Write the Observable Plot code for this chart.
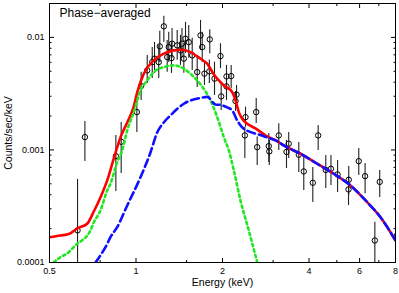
<!DOCTYPE html>
<html>
<head>
<meta charset="utf-8">
<script src="https://cdn.jsdelivr.net/npm/d3@7"></script>
<script src="https://cdn.jsdelivr.net/npm/@observablehq/plot@0.6"></script>
<style>
  html, body { margin: 0; padding: 0; background: #fff; }
  #chart { width: 399px; height: 293px; }
</style>
</head>
<body>
<div id="chart"></div>
<script>
// ---- data ----
const title = "Phase\u2212averaged";
const xTitle = "Energy (keV)";
const yTitle = "Counts/sec/keV";

const xMajorTicks = [0.5, 1, 2, 4, 6, 8];
const xMajorLabels = ["0.5", "1", "2", "4", "6", "8"];
const xMinorTicks = [0.75, 1.5, 3, 5, 7];
const yMajorTicks = [0.0001, 0.001, 0.01];
const yMajorLabels = ["0.0001", "0.001", "0.01"];
const yMinorTicks = [0.0002, 0.0003, 0.0004, 0.0005, 0.0006, 0.0007, 0.0008, 0.0009,
                     0.002, 0.003, 0.004, 0.005, 0.006, 0.007, 0.008, 0.009];

// observed spectrum: energy (keV), rate, lower and upper end of error bar
const obsEnergy = [0.626, 0.664, 0.851, 0.888, 1.007, 1.042, 1.094, 1.139, 1.160, 1.200,
  1.21, 1.25, 1.284, 1.30, 1.329, 1.335, 1.391, 1.428, 1.445, 1.467,
  1.487, 1.526, 1.569, 1.633, 1.677, 1.70, 1.806, 1.731, 1.80, 1.876,
  1.968, 2.065, 2.144, 2.065, 1.979, 2.238, 2.22, 2.405, 2.392, 2.62,
  2.641, 2.898, 2.91, 3.14, 3.34, 3.40, 3.686, 3.836, 4.124, 4.305,
  4.576, 4.77, 5.03, 5.50, 5.49, 5.96, 6.27, 7.05, 6.78, 8.1];
const obsRate = [1.93e-4, 1.30e-3, 8.81e-4, 1.183e-3, 2.17e-3, 3.69e-3, 5.09e-3, 6.03e-3, 6.47e-3, 6.03e-3,
  8.32e-3, 1.253e-2, 6.68e-3, 8.2e-3, 6.55e-3, 8.79e-3, 8.49e-3, 7.66e-3, 8.79e-3, 6.47e-3,
  9.73e-3, 9.08e-3, 6.92e-3, 4.92e-3, 1.042e-2, 8.2e-3, 9.6e-3, 4.76e-3, 4.99e-3, 4.3e-3,
  6.82e-3, 4.5e-3, 4.53e-3, 3.67e-3, 2.99e-3, 3.1e-3, 2.72e-3, 1.957e-3, 1.346e-3, 2.17e-3,
  1.059e-3, 1.081e-3, 9.7e-4, 1.346e-3, 9.6e-4, 1.136e-3, 9.06e-4, 6.44e-4, 5.11e-4, 1.346e-3,
  6.64e-4, 6.8e-4, 6.06e-4, 5.43e-4, 4.46e-4, 7.95e-4, 5.85e-4, 5.2e-4, 1.569e-4, 1.74e-4];
const obsLow = [5e-5, 7.9e-4, 4.28e-4, 6.18e-4, 1.431e-3, 2.754e-3, 3.9e-3, 4.32e-3, 4.79e-3, 4.32e-3,
  5.99e-3, 9.03e-3, 4.89e-3, 5.99e-3, 4.79e-3, 6.51e-3, 6.25e-3, 5.64e-3, 6.51e-3, 4.79e-3,
  7.21e-3, 6.51e-3, 5.09e-3, 3.59e-3, 7.66e-3, 5.99e-3, 7.16e-3, 3.74e-3, 3.9e-3, 3.05e-3,
  5.27e-3, 3.38e-3, 3.52e-3, 2.754e-3, 2.244e-3, 2.486e-3, 2.2e-3, 1.595e-3, 8.4e-4, 1.72e-3,
  7.28e-4, 7.74e-4, 7.28e-4, 9.9e-4, 6.85e-4, 8.4e-4, 6.31e-4, 4.365e-4, 3.41e-4, 9.9e-4,
  4.55e-4, 4.836e-4, 4.19e-4, 3.94e-4, 3.21e-4, 5.93e-4, 4.08e-4, 3.78e-4, 5e-5, 1.2e-4];
const obsHigh = [5.47e-4, 1.792e-3, 1.346e-3, 1.755e-3, 2.93e-3, 4.89e-3, 6.92e-3, 8.15e-3, 9.03e-3, 8.49e-3,
  1.131e-2, 1.537e-2, 9.4e-3, 1.108e-2, 9.03e-3, 1.202e-2, 1.154e-2, 1.042e-2, 1.202e-2, 8.84e-3,
  1.359e-2, 1.278e-2, 9.8e-3, 6.92e-3, 1.416e-2, 1.108e-2, 1.17e-2, 6.03e-3, 6.3e-3, 6.03e-3,
  8.79e-3, 5.64e-3, 5.64e-3, 4.44e-3, 3.88e-3, 3.74e-3, 3.3e-3, 2.4e-3, 1.595e-3, 2.87e-3,
  1.3e-3, 1.402e-3, 1.215e-3, 1.71e-3, 1.215e-3, 1.431e-3, 1.166e-3, 8.94e-4, 6.99e-4, 1.651e-3,
  8.94e-4, 8.94e-4, 8.07e-4, 7.14e-4, 5.81e-4, 1.031e-3, 7.59e-4, 6.57e-4, 2.28e-4, 2.5e-4];

// total model (red solid)
const totalEnergy = [0.5, 0.546, 0.587, 0.624, 0.676, 0.713, 0.752, 0.794, 0.837, 0.883,
  0.932, 0.9825, 1.0097, 1.064, 1.153, 1.2495, 1.354, 1.448, 1.548, 1.677,
  1.769, 1.866, 1.942, 2.021, 2.162, 2.22, 2.279, 2.342, 2.438, 2.605,
  2.861, 3.1, 3.268, 3.736, 4.271, 4.88, 5.578, 6.376, 7.094, 8.0];
const totalRate = [1.679e-4, 1.738e-4, 1.799e-4, 2.005e-4, 2.208e-4, 2.84e-4, 3.783e-4, 5.357e-4, 8.402e-4, 1.292e-3,
  1.755e-3, 2.436e-3, 3.245e-3, 4.757e-3, 6.246e-3, 7.163e-3, 7.664e-3, 7.775e-3, 7.402e-3, 6.467e-3,
  5.838e-3, 4.69e-3, 4.148e-3, 3.744e-3, 3.265e-3, 2.754e-3, 2.168e-3, 1.894e-3, 1.71e-3, 1.553e-3,
  1.318e-3, 1.197e-3, 1.096e-3, 9.252e-4, 7.541e-4, 6.143e-4, 4.836e-4, 3.436e-4, 2.527e-4, 1.569e-4];

// thermal component (green dotted)
const thermalEnergy = [0.5175, 0.546, 0.576, 0.624, 0.641, 0.694, 0.713, 0.752, 0.794, 0.815,
  0.86, 0.8955, 0.932, 0.9825, 1.037, 1.094, 1.153, 1.2495, 1.354, 1.467,
  1.569, 1.677, 1.817, 1.917, 2.021, 2.104, 2.19, 2.31, 2.469, 2.641];
const thermalRate = [1.006e-4, 1.115e-4, 1.202e-4, 1.466e-4, 1.537e-4, 1.925e-4, 2.268e-4, 2.899e-4, 4.365e-4, 5.008e-4,
  7.792e-4, 9.899e-4, 1.491e-3, 2.168e-3, 3.38e-3, 4.148e-3, 4.916e-3, 5.445e-3, 5.638e-3, 5.272e-3,
  4.595e-3, 3.822e-3, 2.754e-3, 1.957e-3, 1.3e-3, 9.899e-4, 6.574e-4, 3.557e-4, 1.925e-4, 1.006e-4];

// power-law component (blue dashed)
const powerEnergy = [0.723, 0.794, 0.815, 0.86, 0.932, 1.037, 1.123, 1.185, 1.2495, 1.318,
  1.467, 1.677, 1.769, 1.891, 1.968, 2.077, 2.162, 2.25, 2.342, 2.469,
  2.675, 2.861, 3.1, 3.268, 3.736, 4.271, 4.88, 5.578, 6.376, 7.094, 8.0];
const powerRate = [1.0e-4, 1.466e-4, 1.679e-4, 2.06e-4, 3.211e-4, 5.731e-4, 9.502e-4, 1.431e-3, 1.755e-3, 2.026e-3,
  2.574e-3, 2.899e-3, 2.959e-3, 2.537e-3, 2.512e-3, 2.387e-3, 2.244e-3, 1.829e-3, 1.585e-3, 1.46e-3,
  1.373e-3, 1.292e-3, 1.197e-3, 1.096e-3, 9.252e-4, 7.541e-4, 6.143e-4, 4.836e-4, 3.436e-4, 2.527e-4, 1.569e-4];

// ---- build tables ----
const obs = obsEnergy.map((e, i) => ({e, y: obsRate[i], lo: obsLow[i], hi: obsHigh[i]}));
const total = totalEnergy.map((e, i) => ({e, y: totalRate[i]}));
const thermal = thermalEnergy.map((e, i) => ({e, y: thermalRate[i]}));
const power = powerEnergy.map((e, i) => ({e, y: powerRate[i]}));
const xLabelRows = xMajorTicks.map((v, i) => ({v, t: xMajorLabels[i]}));
const yLabelRows = yMajorTicks.map((v, i) => ({v, t: yMajorLabels[i]}));

const font = "'Liberation Sans', Arial, Helvetica, sans-serif";
const empty = () => "";

const chart = Plot.plot({
  width: 399,
  height: 293,
  marginLeft: 49,
  marginRight: 4,
  marginTop: 3,
  marginBottom: 31,
  style: {fontFamily: font, background: "white", color: "black"},
  x: {type: "log", domain: [0.5, 8]},
  y: {type: "log", domain: [0.0001, 0.02]},
  marks: [
    // error bars and data points
    Plot.ruleX(obs, {x: "e", y1: "lo", y2: "hi", stroke: "#222", strokeWidth: 1.1, clip: true}),
    Plot.dot(obs, {x: "e", y: "y", r: 2.7, stroke: "black", strokeWidth: 1, fill: "none", clip: true}),
    // models
    Plot.line(total, {x: "e", y: "y", stroke: "#ff0000", strokeWidth: 2.6, curve: "monotone-x", clip: true}),
    Plot.line(thermal, {x: "e", y: "y", stroke: "#22e622", strokeWidth: 2.6, strokeDasharray: "2.5,3.2", curve: "monotone-x", clip: true}),
    Plot.line(power, {x: "e", y: "y", stroke: "#1010ff", strokeWidth: 2.6, strokeDasharray: "8,4", curve: "monotone-x", clip: true}),
    // frame
    Plot.frame({stroke: "black", strokeWidth: 1}),
    // inward ticks on all four sides
    Plot.axisX(xMajorTicks, {anchor: "bottom", tickSize: -4, tickFormat: empty, label: null}),
    Plot.axisX(xMajorTicks, {anchor: "top", tickSize: -4, tickFormat: empty, label: null}),
    Plot.axisX(xMinorTicks, {anchor: "bottom", tickSize: -2, tickFormat: empty, label: null}),
    Plot.axisX(xMinorTicks, {anchor: "top", tickSize: -2, tickFormat: empty, label: null}),
    Plot.axisY(yMajorTicks, {anchor: "left", tickSize: -5, tickFormat: empty, label: null}),
    Plot.axisY(yMajorTicks, {anchor: "right", tickSize: -5, tickFormat: empty, label: null}),
    Plot.axisY(yMinorTicks, {anchor: "left", tickSize: -2.5, tickFormat: empty, label: null}),
    Plot.axisY(yMinorTicks, {anchor: "right", tickSize: -2.5, tickFormat: empty, label: null}),
    // tick labels
    Plot.text(xLabelRows, {x: "v", text: "t", frameAnchor: "bottom", dy: 5, lineAnchor: "top", fontSize: 9}),
    Plot.text(yLabelRows, {y: "v", text: "t", frameAnchor: "left", dx: -5, textAnchor: "end", lineAnchor: "middle", fontSize: 9}),
    // titles
    Plot.text([xTitle], {frameAnchor: "bottom", dy: 20, lineAnchor: "middle", fontSize: 10.5}),
    Plot.text([yTitle], {frameAnchor: "left", dx: -41, rotate: -90, lineAnchor: "middle", textAnchor: "middle", fontSize: 10.5}),
    Plot.text([title], {frameAnchor: "top-left", dx: 10, dy: 5, lineAnchor: "top", textAnchor: "start", fontSize: 12})
  ]
});
document.getElementById("chart").append(chart);
</script>
</body>
</html>
